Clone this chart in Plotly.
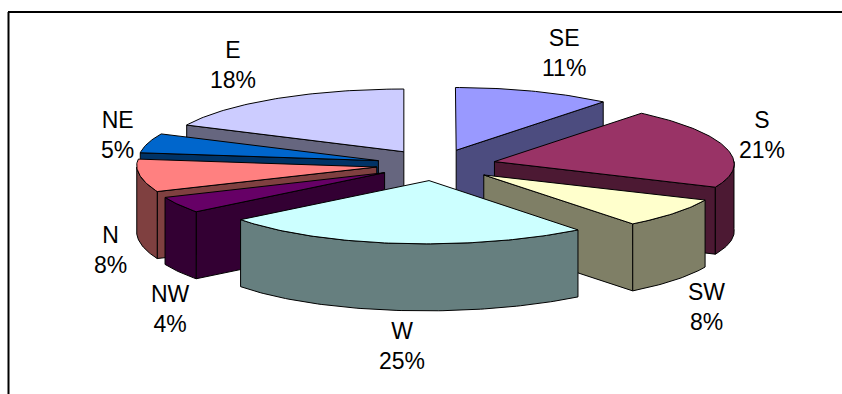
import math
import plotly.graph_objects as go

# Wind direction shares, clockwise from twelve o'clock
directions = ["SE", "S", "SW", "W", "NW", "N", "NE", "E"]
shares = [11, 21, 8, 25, 4, 8, 5, 18]
top_colors = ["#9999FF", "#993366", "#FFFFCC", "#CCFFFF", "#660066", "#FF8080", "#0066CC", "#CCCCFF"]

# Projection of the tilted pie, in page pixels
CENTER_X, CENTER_Y = 436, 165
RADIUS_X, RADIUS_Y = 240, 65
DEPTH = 67
EXPLODE = 0.25
# Perspective terms for the half of the pie nearest the viewer
NEAR_SHEAR = 0.15
NEAR_SQUASH = 0.03
NEAR_ROLL = 0.012
# Perspective terms for the far half
FAR_SQUASH = 0.035
FAR_NARROW = 0.035

# Label centres, in page pixels
label_centers = {
    "SE": (564, 53), "S": (762, 135), "SW": (706, 307), "W": (402, 346),
    "NW": (170, 309), "N": (110, 250), "NE": (117, 135), "E": (233, 65),
}


def darken(color):
    r, g, b = (int(color[i:i + 2], 16) for i in (1, 3, 5))
    return f"rgb({r // 2},{g // 2},{b // 2})"


def project(x, y):
    below = max(0.0, y - CENTER_Y)
    above = max(0.0, CENTER_Y - y)
    right = max(0.0, x - CENTER_X)
    return (x + NEAR_SHEAR * below - FAR_NARROW * right * above / RADIUS_Y,
            y - NEAR_SQUASH * below - NEAR_ROLL * (x - CENTER_X) * below / RADIUS_Y
            + FAR_SQUASH * above)


def rim(apex, deg):
    a = math.radians(deg)
    return project(apex[0] + RADIUS_X * math.sin(a), apex[1] - RADIUS_Y * math.cos(a))


def arc(apex, start, end, step=1.0):
    n = max(2, int(abs(end - start) / step) + 1)
    return [rim(apex, start + (end - start) * i / (n - 1)) for i in range(n)]


def face(fig, pts, color):
    xs = [p[0] for p in pts] + [pts[0][0]]
    ys = [p[1] for p in pts] + [pts[0][1]]
    fig.add_trace(go.Scatter(
        x=xs, y=ys, mode="lines", fill="toself", fillcolor=color,
        line=dict(color="black", width=1), hoverinfo="skip", showlegend=False,
    ))


def drop(pts):
    return [(x, y + DEPTH) for x, y in pts]


slices = []
cum = 0
for name, share, color in zip(directions, shares, top_colors):
    start = cum * 3.6
    cum += share
    end = cum * 3.6
    mid = math.radians((start + end) / 2)
    apex = (CENTER_X + EXPLODE * RADIUS_X * math.sin(mid),
            CENTER_Y - EXPLODE * RADIUS_Y * math.cos(mid))
    slices.append((apex, start, end, color))

fig = go.Figure()

# Paint from the back of the pie towards the viewer
for apex, start, end, color in sorted(slices, key=lambda s: s[0][1]):
    side = darken(color)
    tip = project(*apex)
    if math.sin(math.radians(start)) < -1e-9:
        edge = [tip, rim(apex, start)]
        face(fig, edge + drop(edge)[::-1], side)
    if math.sin(math.radians(end)) > 1e-9:
        edge = [tip, rim(apex, end)]
        face(fig, edge + drop(edge)[::-1], side)
    lo, hi = max(start, 90), min(end, 270)
    if lo < hi:
        curve = arc(apex, lo, hi)
        face(fig, curve + drop(curve)[::-1], side)
    face(fig, [tip] + arc(apex, start, end), color)

for name, share in zip(directions, shares):
    x, y = label_centers[name]
    fig.add_annotation(
        x=x, y=y, text=f"{name}<br>{share}%", showarrow=False,
        font=dict(family="Liberation Sans, Arial, sans-serif", size=23, color="black"),
        align="center", xanchor="center", yanchor="middle",
    )

# Open frame around the chart area
frame = dict(color="black", width=2)
fig.add_shape(type="line", x0=8, x1=842, y0=12, y1=12, line=frame)
fig.add_shape(type="line", x0=8.5, x1=8.5, y0=12, y1=394, line=frame)

fig.update_layout(
    width=842, height=394, margin=dict(l=0, r=0, t=0, b=0),
    paper_bgcolor="white", plot_bgcolor="white", showlegend=False,
    xaxis=dict(range=[0, 842], visible=False, fixedrange=True),
    yaxis=dict(range=[394, 0], visible=False, fixedrange=True),
)
fig.write_html("out.html", config={"displayModeBar": False})
